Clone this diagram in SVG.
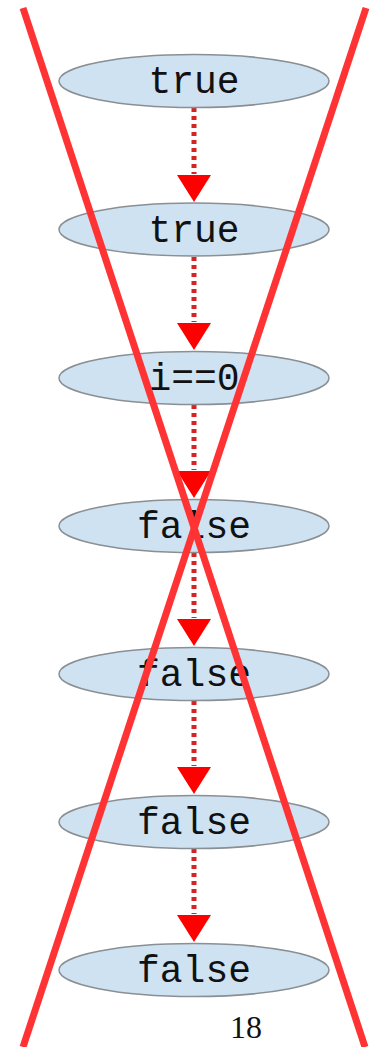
<svg xmlns="http://www.w3.org/2000/svg" width="372" height="1047" viewBox="0 0 372 1047">
<style>
.node ellipse{fill:#cfe2f1;stroke:#8a8f94;stroke-width:1.5}
.node text{font-family:"Liberation Mono","DejaVu Sans Mono",monospace;font-size:38px;text-anchor:middle;fill:#111}
.edge line{stroke:#d42424;stroke-width:5;stroke-dasharray:4 4}
.edge polygon{fill:#ff0000}
.cross{stroke:#ff3333;stroke-width:7;stroke-linecap:butt}
</style>
<rect width="372" height="1047" fill="#ffffff"/>
<g id="connectors" class="edge">
<line x1="194" y1="108" x2="194" y2="174"/><polygon points="177,175 211,175 194,202"/>
<line x1="194" y1="257" x2="194" y2="322"/><polygon points="177,323 211,323 194,350"/>
<line x1="194" y1="405" x2="194" y2="470"/><polygon points="177,471 211,471 194,498"/>
<line x1="194" y1="553" x2="194" y2="618"/><polygon points="177,619 211,619 194,646"/>
<line x1="194" y1="701" x2="194" y2="766"/><polygon points="177,767 211,767 194,794"/>
<line x1="194" y1="849" x2="194" y2="914"/><polygon points="177,915 211,915 194,942"/>
</g>
<g id="n1" class="node"><ellipse cx="194" cy="81" rx="135" ry="26.5"/><text x="194" y="93">true</text></g>
<g id="n2" class="node"><ellipse cx="194" cy="229.5" rx="135" ry="26.5"/><text x="194" y="241.5">true</text></g>
<g id="n3" class="node"><ellipse cx="194" cy="378" rx="135" ry="26.5"/><text x="194" y="390">i==0</text></g>
<g id="n4" class="node"><ellipse cx="194" cy="526" rx="135" ry="26.5"/><text x="194" y="538">false</text></g>
<g id="n5" class="node"><ellipse cx="194" cy="674" rx="135" ry="26.5"/><text x="194" y="686">false</text></g>
<g id="n6" class="node"><ellipse cx="194" cy="822" rx="135" ry="26.5"/><text x="194" y="834">false</text></g>
<g id="n7" class="node"><ellipse cx="194" cy="970" rx="135" ry="26.5"/><text x="194" y="982">false</text></g>
<text x="246" y="1038" font-family="Liberation Serif, serif" font-size="32" text-anchor="middle" fill="#111">18</text>
<g id="cross">
<line class="cross" x1="23" y1="8" x2="365" y2="1047"/>
<line class="cross" x1="366" y1="8" x2="23" y2="1047"/>
</g>
</svg>
